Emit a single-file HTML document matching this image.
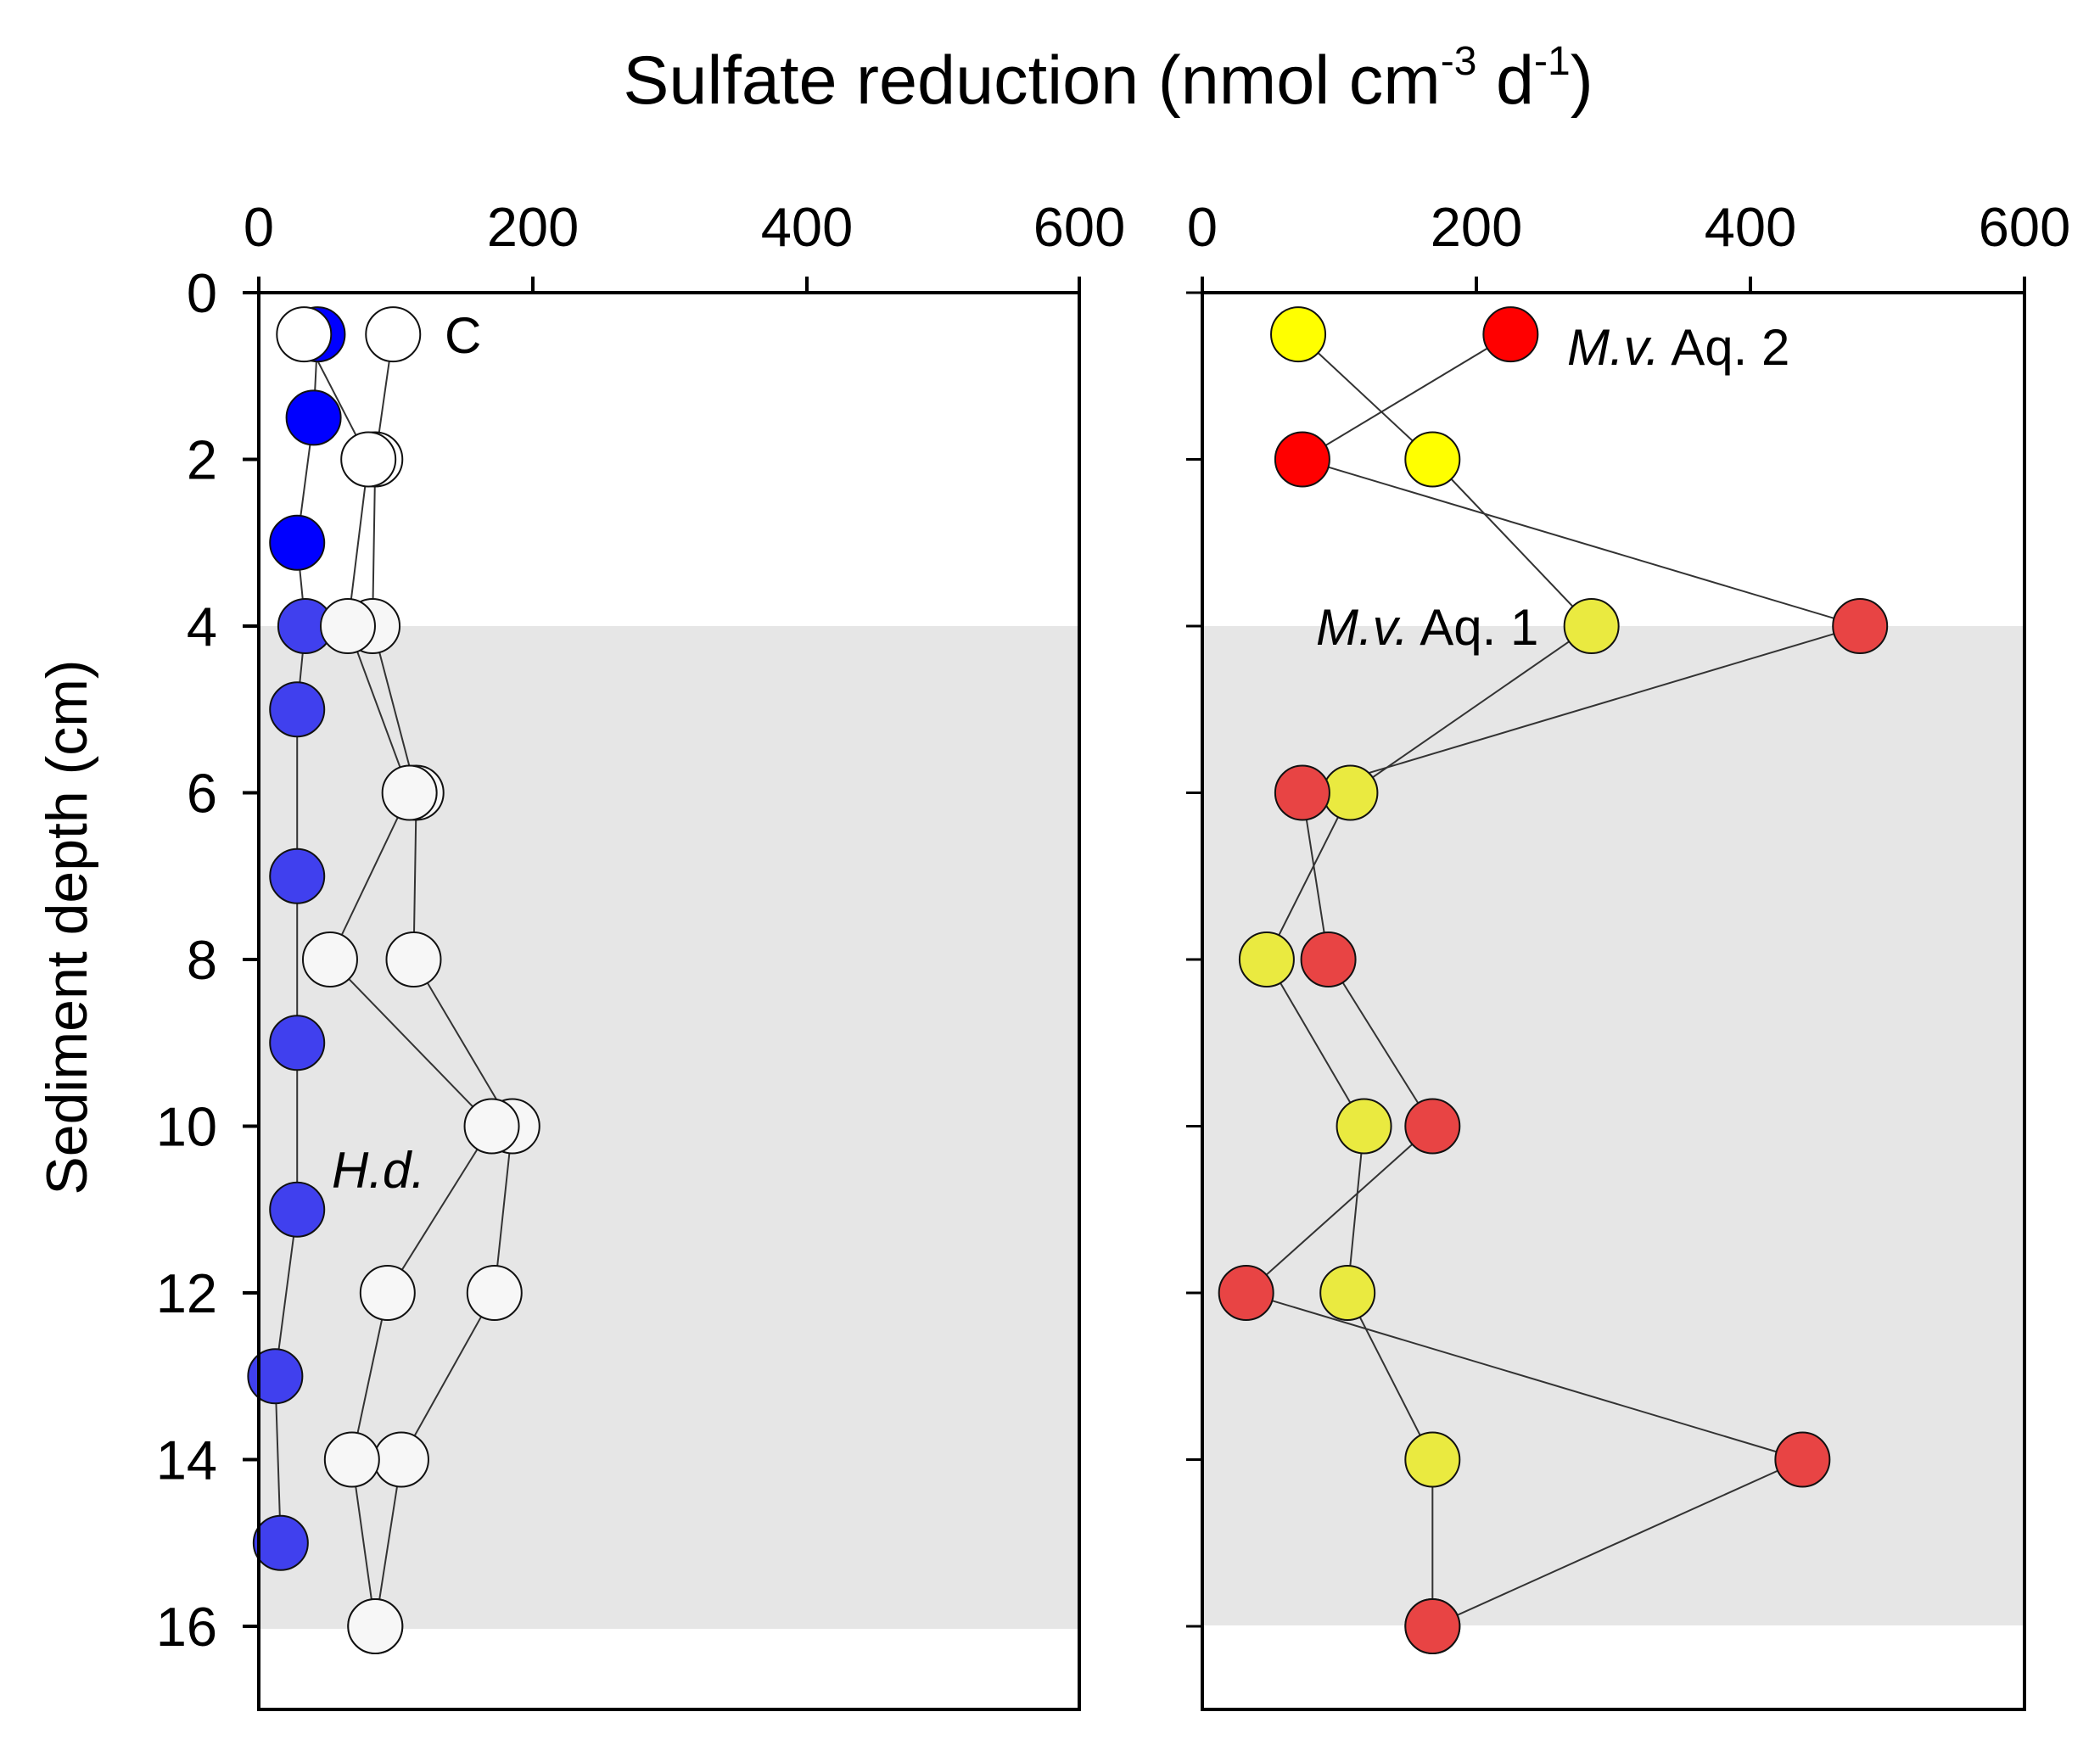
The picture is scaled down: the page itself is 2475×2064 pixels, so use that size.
<!DOCTYPE html>
<html><head><meta charset="utf-8"><style>
html,body{margin:0;padding:0;background:#fff}
svg{display:block}
text{font-family:"Liberation Sans",Arial,sans-serif;fill:#000}
</style></head><body>
<svg id="s" width="2475" height="2064" viewBox="0 0 2475 2064" xmlns="http://www.w3.org/2000/svg">
<rect x="305" y="738" width="967" height="1182" fill="#e6e6e6"/>
<rect x="1417" y="738" width="969" height="1178" fill="#e6e6e6"/>
<g id="g"></g>
<g stroke="#000" stroke-width="4" fill="none">
<path d="M305 345 V2015 H1272 V345 M290 345 H1272"/>
<path d="M1417 345 V2015 H2386 V345 M1417 345 H2386"/>
</g>
<text x="1306" y="122" font-size="81" text-anchor="middle">Sulfate reduction (nmol cm<tspan font-size="48" dy="-34">-3</tspan><tspan dy="34"> d</tspan><tspan font-size="48" dy="-34">-1</tspan><tspan dy="34">)</tspan></text>
<g font-size="65" text-anchor="middle">
<text x="305" y="290">0</text><text x="628" y="290">200</text><text x="951" y="290">400</text><text x="1272" y="290">600</text>
<text x="1417" y="290">0</text><text x="1740" y="290">200</text><text x="2063" y="290">400</text><text x="2386" y="290">600</text>
</g>
<g font-size="65" text-anchor="end" id="yl"></g>
<text transform="translate(102,1093) rotate(-90)" font-size="68" text-anchor="middle">Sediment depth (cm)</text>
<text x="524" y="416" font-size="60">C</text>
<text x="1847" y="430" font-size="60"><tspan font-style="italic">M.v.</tspan> Aq. 2</text>
<text x="1551" y="760" font-size="60"><tspan font-style="italic">M.v.</tspan> Aq. 1</text>
<text x="391" y="1400" font-size="60" font-style="italic">H.d.</text>
</svg>
<script>
var NS="http://www.w3.org/2000/svg",g=document.getElementById('g'),s=document.getElementById('s'),yl=document.getElementById('yl');
function Y(d){return 345+d*98.25}
function el(n,a,p){var e=document.createElementNS(NS,n);for(var k in a)e.setAttribute(k,a[k]);(p||g).appendChild(e);return e}
for(var d=0;d<=16;d+=2){el('line',{x1:286,x2:305,y1:Y(d),y2:Y(d),stroke:'#000','stroke-width':4},s);
el('line',{x1:1398,x2:1417,y1:Y(d),y2:Y(d),stroke:'#000','stroke-width':3},s);
var t=el('text',{x:256,y:Y(d)+23},yl);t.textContent=d;}
[305,628,951,1272].forEach(function(x){el('line',{x1:x,x2:x,y1:326,y2:345,stroke:'#000','stroke-width':4},s)});
[1417,1740,2063,2386].forEach(function(x){el('line',{x1:x,x2:x,y1:326,y2:345,stroke:'#000','stroke-width':4},s)});
function series(x0,pts,c1,c2){
 var p=pts.map(function(q){return (x0+q[1]*1.615)+','+Y(q[0])}).join(' ');
 el('polyline',{points:p,fill:'none',stroke:'#333','stroke-width':2});
 return function(){pts.forEach(function(q){el('circle',{cx:x0+q[1]*1.615,cy:Y(q[0]),r:32,fill:q[0]>=4?c2:c1,stroke:'#111','stroke-width':2})})};
}
var m=[];
m.push(series(305,[[0.5,98],[2,85],[4,83],[6,115],[8,113],[10,185],[12,172],[14,104],[16,85]],'#fff','#f7f7f7'));
m.push(series(305,[[0.5,43],[1.5,40],[3,28],[4,34],[5,28],[7,28],[9,28],[11,28],[13,12],[15,16]],'#0000ff','#4040ee'));
m.push(series(305,[[0.5,33],[2,80],[4,65],[6,110],[8,52],[10,170],[12,94],[14,68],[16,85]],'#fff','#f7f7f7'));
m.push(series(1417,[[0.5,70],[2,168],[4,284],[6,108],[8,47],[10,118],[12,106],[14,168],[16,168]],'#ffff00','#eaea40'));
m.push(series(1417,[[0.5,225],[2,73],[4,480],[6,73],[8,92],[10,168],[12,32],[14,438],[16,168]],'#ff0000','#e84444'));
m.forEach(function(f){f()});
</script>
</body></html>
